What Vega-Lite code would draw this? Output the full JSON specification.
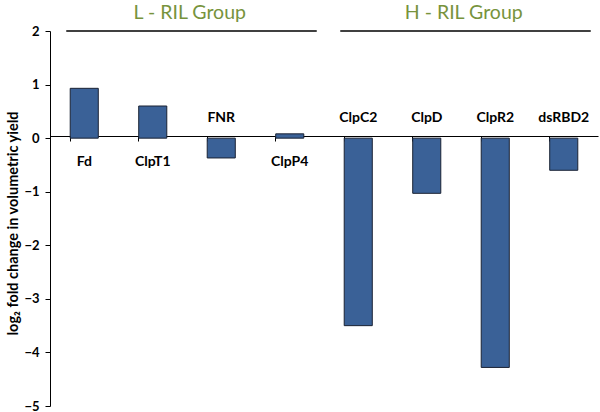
{
  "$schema": "https://vega.github.io/schema/vega-lite/v6.json",
  "autosize": {"type": "none"},
  "width": 548,
  "height": 375,
  "padding": {"left": 50, "top": 31, "right": 2, "bottom": 6},
  "background": "white",
  "config": {"view": {"stroke": null}, "font": "Lato"},
  "datasets": {
    "genes": [
      {"gene": "Fd", "value": 0.93},
      {"gene": "ClpT1", "value": 0.6},
      {"gene": "FNR", "value": -0.37},
      {"gene": "ClpP4", "value": 0.08},
      {"gene": "ClpC2", "value": -3.5},
      {"gene": "ClpD", "value": -1.03},
      {"gene": "ClpR2", "value": -4.28},
      {"gene": "dsRBD2", "value": -0.6}
    ],
    "groups": [
      {"group": "L - RIL Group", "center": "ClpT1", "start": "Fd", "end": "ClpP4"},
      {"group": "H - RIL Group", "center": "ClpD", "start": "ClpC2", "end": "dsRBD2"}
    ]
  },
  "layer": [
    {
      "data": {"name": "genes"},
      "mark": {"type": "bar", "color": "#3A6197", "stroke": "#1a2233", "strokeWidth": 1},
      "encoding": {
        "x": {
          "field": "gene", "type": "nominal", "sort": null,
          "scale": {"paddingInner": 0.59, "paddingOuter": 0.295},
          "axis": {"labels": false, "title": null, "domain": true, "domainColor": "black", "ticks": true, "tickColor": "black", "tickSize": 5, "offset": -270, "bandPosition": 0}
        },
        "y": {
          "field": "value", "type": "quantitative",
          "scale": {"domain": [-5, 2], "nice": false},
          "axis": {
            "values": [-5, -4, -3, -2, -1, 0, 1, 2],
            "format": "d",
            "grid": false,
            "domainColor": "black",
            "tickColor": "black",
            "tickSize": 5,
            "labelFontSize": 13,
            "labelFontWeight": "bold",
            "labelColor": "black",
            "labelPadding": 6,
            "title": "log₂ fold change in volumetric yield",
            "titleFontSize": 14.5,
            "titleFontWeight": "bold",
            "titleColor": "black",
            "titleX": -37,
            "titleY": 192,
            "titleAngle": -90,
            "titleBaseline": "middle",
            "titleAlign": "center"
          }
        }
      }
    },
    {
      "data": {"name": "genes"},
      "transform": [{"filter": "datum.value > 0"}],
      "mark": {"type": "text", "fontSize": 14, "fontWeight": "bold", "color": "black", "dy": 24},
      "encoding": {
        "x": {"field": "gene", "type": "nominal", "sort": null},
        "y": {"datum": 0},
        "text": {"field": "gene"}
      }
    },
    {
      "data": {"name": "genes"},
      "transform": [{"filter": "datum.value < 0"}],
      "mark": {"type": "text", "fontSize": 14, "fontWeight": "bold", "color": "black", "dy": -20},
      "encoding": {
        "x": {"field": "gene", "type": "nominal", "sort": null},
        "y": {"datum": 0},
        "text": {"field": "gene"}
      }
    },
    {
      "data": {"name": "groups"},
      "mark": {"type": "rule", "color": "black", "strokeWidth": 1.5, "xOffset": -18, "x2Offset": 27},
      "encoding": {
        "x": {"field": "start", "type": "nominal", "sort": null},
        "x2": {"field": "end"},
        "y": {"datum": 2}
      }
    },
    {
      "data": {"name": "groups"},
      "mark": {"type": "text", "fontSize": 19.5, "color": "#77933C", "dy": -12, "baseline": "alphabetic", "xOffset": 37, "clip": false},
      "encoding": {
        "x": {"field": "center", "type": "nominal", "sort": null},
        "y": {"datum": 2},
        "text": {"field": "group"}
      }
    }
  ]
}
